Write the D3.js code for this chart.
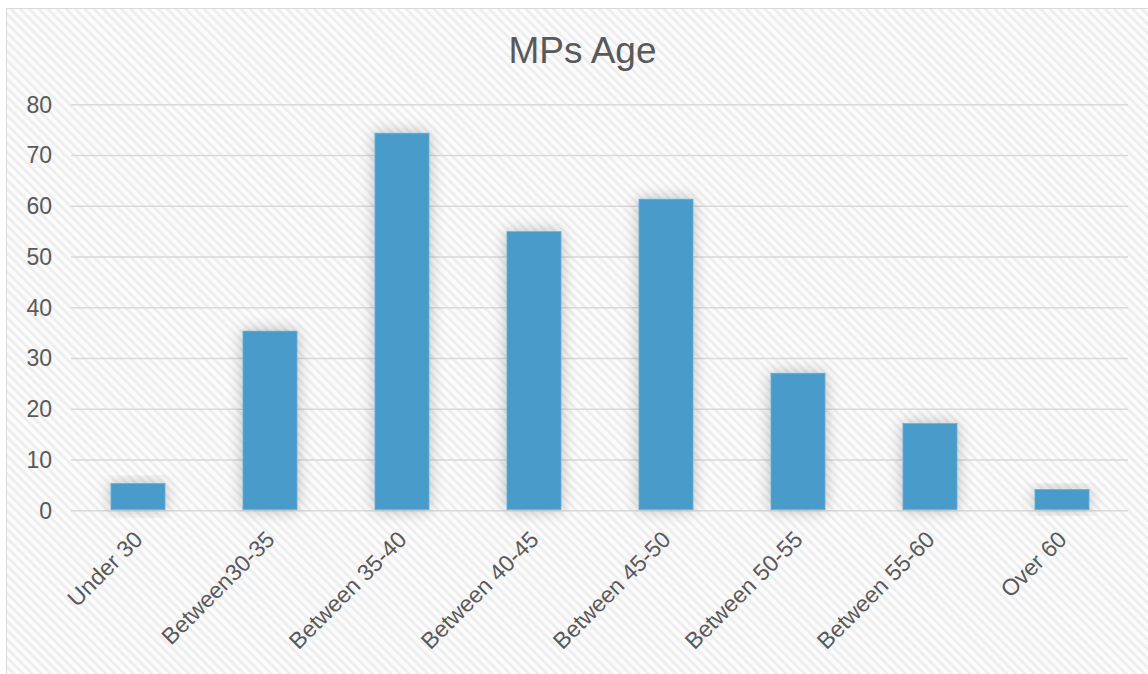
<!DOCTYPE html>
<html>
<head>
<meta charset="utf-8">
<script src="https://cdn.jsdelivr.net/npm/d3@7"></script>
<style>
  html, body { margin: 0; padding: 0; background: #ffffff; }
  svg { display: block; font-family: "Liberation Sans", Arial, sans-serif; }
</style>
</head>
<body>
<svg id="chart" width="1148" height="674"></svg>
<script>
const chartTitle = "MPs Age";
const categories = ["Under 30", "Between30-35", "Between 35-40", "Between 40-45", "Between 45-50", "Between 50-55", "Between 55-60", "Over 60"];
const values = [5.4, 35.4, 74.4, 55.0, 61.4, 27.1, 17.2, 4.2];
const yTicks = [0, 10, 20, 30, 40, 50, 60, 70, 80];

const W = 1148, H = 674;
const svg = d3.select("#chart");
const defs = svg.append("defs");

// diagonal hatch background (stripes running top-left to bottom-right)
const pat = defs.append("pattern")
  .attr("id", "hatch").attr("patternUnits", "userSpaceOnUse")
  .attr("width", 6.5).attr("height", 6.5)
  .attr("patternTransform", "rotate(-45)");
pat.append("rect").attr("width", 6.5).attr("height", 6.5).attr("fill", "#fcfcfc");
pat.append("rect").attr("width", 2.8).attr("height", 6.5).attr("fill", "#eeeeee");

// bar shadow
const f = defs.append("filter").attr("id", "shadow")
  .attr("x", "-60%").attr("y", "-30%").attr("width", "220%").attr("height", "160%");
f.append("feGaussianBlur").attr("in", "SourceAlpha").attr("stdDeviation", 8).attr("result", "b");
f.append("feComponentTransfer").attr("in", "b").attr("result", "s")
  .append("feFuncA").attr("type", "linear").attr("slope", 0.25);
const fm = f.append("feMerge");
fm.append("feMergeNode").attr("in", "s");
fm.append("feMergeNode").attr("in", "SourceGraphic");

// chart area
svg.append("rect").attr("x", 6).attr("y", 8).attr("width", W - 6).attr("height", H - 8)
  .attr("fill", "url(#hatch)");
svg.append("path").attr("d", `M6.5,${H} V8.5 H${W}`)
  .attr("fill", "none").attr("stroke", "#d9d9d9").attr("stroke-width", 1);

// scales
const x = d3.scaleBand().domain(categories).range([72, 1128])
  .paddingInner(0.59).paddingOuter(0.295);
const y = d3.scaleLinear().domain([0, 80]).range([510.7, 104.7]);

// gridlines
svg.append("g").selectAll("line").data(yTicks).join("line")
  .attr("x1", 71).attr("x2", 1128)
  .attr("y1", d => y(d)).attr("y2", d => y(d))
  .attr("stroke", "#d9d9d9").attr("stroke-width", 1.5);

// y axis labels
const yAxis = d3.axisLeft(y).tickValues(yTicks).tickSize(0).tickPadding(0);
const gy = svg.append("g").attr("transform", "translate(52,0)").call(yAxis);
gy.select(".domain").remove();
gy.selectAll("text").attr("font-size", 23).attr("fill", "#595959")
  .attr("font-family", "Liberation Sans, Arial, sans-serif");

// bars
svg.append("g").selectAll("rect").data(values).join("rect")
  .attr("x", (d, i) => x(categories[i]))
  .attr("width", x.bandwidth())
  .attr("y", d => y(d))
  .attr("height", d => y(0) - y(d) - 1)
  .attr("fill", "#4a9bca")
  .attr("stroke", "#72b1d9").attr("stroke-width", 0.8)
  .attr("filter", "url(#shadow)");

// x axis labels
const xAxis = d3.axisBottom(x).tickSize(0).tickPadding(0);
const gx = svg.append("g").attr("transform", "translate(0,511)").call(xAxis);
gx.select(".domain").remove();
gx.selectAll("text")
  .attr("font-size", 23).attr("fill", "#595959")
  .attr("font-family", "Liberation Sans, Arial, sans-serif")
  .attr("text-anchor", "end")
  .attr("dy", null)
  .attr("y", 0)
  .attr("transform", "translate(6,30) rotate(-45)");

// title
svg.append("text").attr("x", 582.5).attr("y", 63)
  .attr("text-anchor", "middle").attr("font-size", 37).attr("fill", "#595959")
  .text(chartTitle);
</script>
</body>
</html>
